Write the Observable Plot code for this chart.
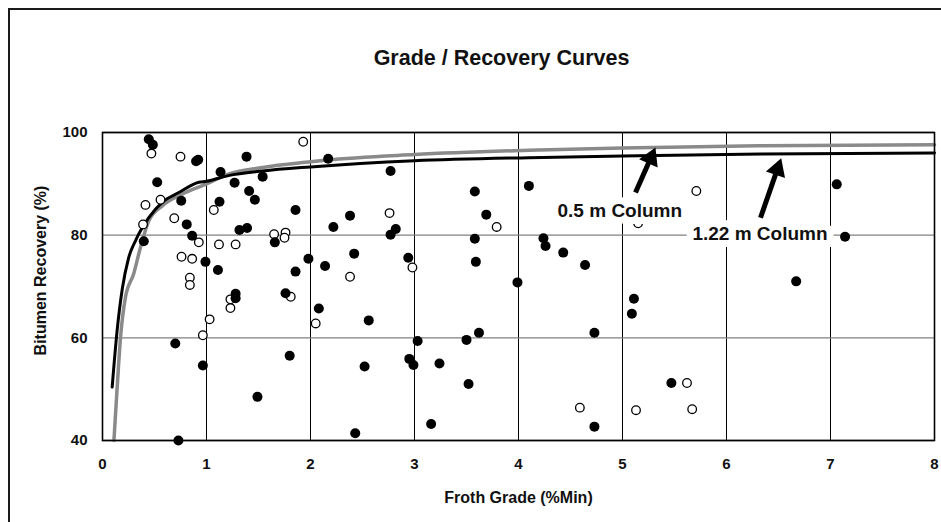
<!DOCTYPE html>
<html>
<head>
<meta charset="utf-8">
<script src="https://cdn.jsdelivr.net/npm/d3@7"></script>
<script src="https://cdn.jsdelivr.net/npm/@observablehq/plot@0.6"></script>
<style>
  html, body { margin: 0; padding: 0; background: #fff; overflow: hidden; }
  #wrap { position: relative; width: 941px; height: 522px; }
  #border { position: absolute; left: 8px; top: 8px; width: 1200px; height: 1200px;
            border-left: 2px solid #1a1a1a; border-top: 2px solid #1a1a1a; box-sizing: border-box; }
  #chart { position: absolute; left: 0; top: 0; }
  svg { font-family: "Liberation Sans", Arial, sans-serif; }
</style>
</head>
<body>
<div id="wrap"><div id="border"></div><div id="chart"></div></div>
<script>
// ---- data ----
const titleText = "Grade / Recovery Curves";
const xLabel = "Froth Grade (%Min)";
const yLabel = "Bitumen Recovery (%)";
const xTicks = [0, 1, 2, 3, 4, 5, 6, 7, 8];
const yTicks = [40, 60, 80, 100];

// solid markers
const solidX = [0.445,0.484,0.90,0.92,1.385,1.135,1.27,1.54,1.41,1.465,0.526,0.757,1.125,1.856,0.81,0.862,1.317,1.39,1.657,0.397,0.99,1.11,1.98,1.856,2.14,1.28,1.28,1.76,2.08,0.70,0.965,1.80,1.49,0.73,2.17,2.77,3.58,4.10,2.38,2.22,3.69,2.82,2.77,3.58,4.24,4.26,2.42,2.94,3.59,3.99,2.56,3.03,3.50,3.62,2.95,2.99,3.24,2.52,3.52,3.16,2.43,4.43,4.64,5.11,5.09,4.73,5.47,4.73,7.06,7.14,6.67];
const solidY = [98.7,97.6,94.4,94.7,95.3,92.3,90.2,91.4,88.6,86.9,90.3,86.7,86.5,84.9,82.1,79.9,81.0,81.4,78.6,78.8,74.8,73.2,75.4,72.9,74.0,68.6,67.7,68.7,65.7,58.9,54.6,56.5,48.5,40.0,94.9,92.5,88.5,89.6,83.8,81.6,84.0,81.2,80.1,79.3,79.4,77.9,76.4,75.6,74.8,70.8,63.4,59.4,59.6,61.0,55.9,54.7,55.0,54.4,51.0,43.2,41.4,76.6,74.2,67.6,64.7,61.0,51.2,42.7,89.9,79.7,71.0];

// open markers
const openX = [1.93,0.47,0.75,0.413,0.558,0.39,0.69,1.07,0.926,1.12,1.28,1.65,1.76,1.75,0.76,0.862,0.84,0.84,1.23,1.23,1.81,2.05,1.03,0.965,2.76,3.79,2.38,2.98,5.71,5.15,5.62,4.59,5.13,5.67];
const openY = [98.2,95.9,95.3,85.9,86.9,82.1,83.3,84.9,78.6,78.2,78.2,80.2,80.5,79.5,75.8,75.4,71.7,70.3,67.5,65.8,68.0,62.8,63.6,60.5,84.3,81.6,71.9,73.7,88.6,82.3,51.2,46.4,45.9,46.1];

// 1.22 m column curve (black)
const curve122X = [0.093,0.14,0.19,0.25,0.317,0.445,0.574,0.734,0.926,1.0,1.21,1.54,2.0,3.0,4.1,5.0,6.33,8.0];
const curve122Y = [50.4,61.3,69.5,75.5,78.9,83.4,86.4,88.3,90.3,90.5,91.6,92.5,93.3,94.5,95.1,95.4,95.8,96.0];

// 0.5 m column curve (grey)
const curve05X = [0.11,0.14,0.173,0.22,0.30,0.365,0.445,0.574,0.766,0.99,1.21,1.54,2.0,2.14,3.0,4.2,5.0,6.33,8.0];
const curve05Y = [40,50,60,67.8,72.5,77.6,82.8,85.7,88.0,89.9,91.9,93.2,94.3,94.6,95.7,96.6,97.0,97.4,97.6];

// annotations
const labelText = ["0.5 m Column", "1.22 m Column"];
const labelX = [4.974, 6.322];
const labelY = [84.74, 80.2];
const arrowX1 = [5.125, 6.327];
const arrowY1 = [88.3, 83.4];
const arrowX2 = [5.317, 6.526];
const arrowY2 = [97.1, 95.0];

// ---- layout ----
const W = 941, H = 522, mL = 102, mR = 7, mT = 132, mB = 82;
const xDom = [0, 8], yDom = [40, 100];
const kx = (W - mL - mR) / (xDom[1] - xDom[0]);   // px per x unit
const ky = (H - mT - mB) / (yDom[1] - yDom[0]);   // px per y unit
const headR = 7.5;
const headBack = 2 * Math.sqrt((Math.PI * headR * headR) / (3 * Math.sqrt(3))); // tip distance from centroid

// ---- build tables ----
const solid = solidX.map((x, i) => ({x, y: solidY[i]}));
const open = openX.map((x, i) => ({x, y: openY[i]}));
const c122 = curve122X.map((x, i) => ({x, y: curve122Y[i]}));
const c05 = curve05X.map((x, i) => ({x, y: curve05Y[i]}));
const labels = labelText.map((t, i) => ({t, x: labelX[i], y: labelY[i]}));
const arrows = arrowX1.map((x1, i) => {
  const x2 = arrowX2[i], y2 = arrowY2[i], y1 = arrowY1[i];
  const dxp = (x2 - x1) * kx, dyp = -(y2 - y1) * ky;   // screen vector
  const len = Math.hypot(dxp, dyp);
  const ux = dxp / len, uy = dyp / len;
  const cx = x2 - (ux * headBack) / kx, cy = y2 + (uy * headBack) / ky;
  const angle = Math.atan2(ux, -uy) * 180 / Math.PI;
  return {x1, y1, cx, cy, angle};
});

const chart = Plot.plot({
  width: W,
  height: H,
  marginLeft: mL,
  marginRight: mR,
  marginTop: mT,
  marginBottom: mB,
  style: {fontFamily: '"Liberation Sans", Arial, sans-serif', background: "transparent"},
  x: {domain: xDom},
  y: {domain: yDom},
  marks: [
    Plot.gridX(xTicks, {stroke: "#000", strokeOpacity: 1, strokeWidth: 1}),
    Plot.gridY(yTicks, {stroke: "#808080", strokeOpacity: 1, strokeWidth: 1.3}),
    Plot.line(c05, {x: "x", y: "y", stroke: "#8a8a8a", strokeWidth: 3.5, curve: "monotone-x"}),
    Plot.line(c122, {x: "x", y: "y", stroke: "#000", strokeWidth: 3, curve: "monotone-x"}),
    Plot.dot(open, {x: "x", y: "y", r: 4.3, fill: "#fff", stroke: "#000", strokeWidth: 1.3}),
    Plot.dot(solid, {x: "x", y: "y", r: 5, fill: "#000", stroke: "none"}),
    Plot.text(labels, {x: "x", y: "y", text: "t", fontSize: 19, fontWeight: "bold", fill: "#111",
      stroke: "#fff", strokeWidth: 14, paintOrder: "stroke", strokeLinejoin: "miter"}),
    Plot.link(arrows, {x1: "x1", y1: "y1", x2: "cx", y2: "cy", stroke: "#000", strokeWidth: 5}),
    Plot.dot(arrows, {x: "cx", y: "cy", symbol: "triangle", r: headR, rotate: "angle", fill: "#000", stroke: "none"}),
    Plot.frame({stroke: "#000", strokeWidth: 1.6}),
    Plot.axisX(xTicks, {tickSize: 0, tickPadding: 18, fontSize: 15, fontWeight: "bold", label: null, fill: "#111"}),
    Plot.axisY(yTicks, {tickSize: 0, tickPadding: 15, fontSize: 15, fontWeight: "bold", label: null, fill: "#111"}),
    Plot.text([xLabel], {frameAnchor: "bottom", dy: 57, lineAnchor: "middle", textAnchor: "middle", fontSize: 16, fontWeight: "bold", fill: "#111"}),
    Plot.text([yLabel], {frameAnchor: "left", dx: -62, dy: -16, rotate: -90, lineAnchor: "middle", textAnchor: "middle", fontSize: 16, fontWeight: "bold", fill: "#111"}),
    Plot.text([titleText], {frameAnchor: "top", dx: -17, dy: -74, lineAnchor: "middle", textAnchor: "middle", fontSize: 21.5, fontWeight: "bold", fill: "#111"})
  ]
});
document.getElementById("chart").appendChild(chart);
</script>
</body>
</html>
